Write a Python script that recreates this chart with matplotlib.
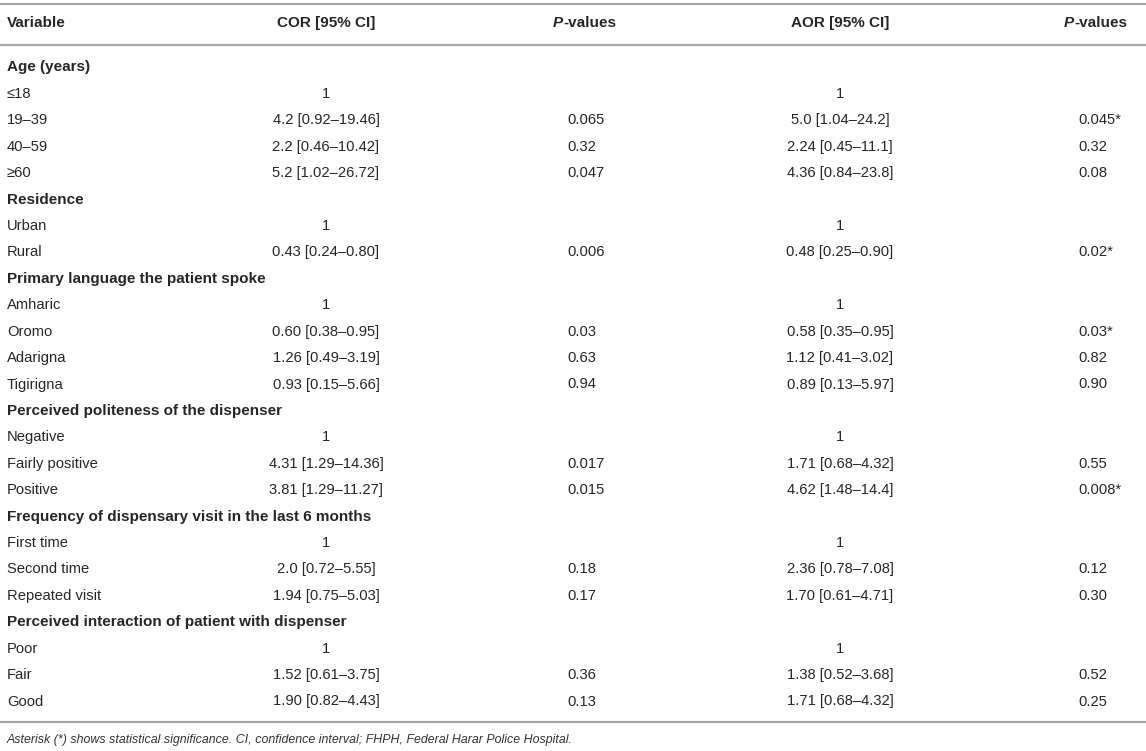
import numpy as np
import matplotlib.pyplot as plt

plt.rcParams['font.family'] = ['Liberation Sans', 'DejaVu Sans']

labels = ["Age (years)", "≤18", "19–39", "40–59", "≥60",
          "Residence", "Urban", "Rural",
          "Primary language the patient spoke", "Amharic", "Oromo", "Adarigna", "Tigirigna",
          "Perceived politeness of the dispenser", "Negative", "Fairly positive", "Positive",
          "Frequency of dispensary visit in the last 6 months", "First time", "Second time", "Repeated visit",
          "Perceived interaction of patient with dispenser", "Poor", "Fair", "Good"]
cor = ["", "1", "4.2 [0.92–19.46]", "2.2 [0.46–10.42]", "5.2 [1.02–26.72]",
       "", "1", "0.43 [0.24–0.80]",
       "", "1", "0.60 [0.38–0.95]", "1.26 [0.49–3.19]", "0.93 [0.15–5.66]",
       "", "1", "4.31 [1.29–14.36]", "3.81 [1.29–11.27]",
       "", "1", "2.0 [0.72–5.55]", "1.94 [0.75–5.03]",
       "", "1", "1.52 [0.61–3.75]", "1.90 [0.82–4.43]"]
p_cor = ["", "", "0.065", "0.32", "0.047",
         "", "", "0.006",
         "", "", "0.03", "0.63", "0.94",
         "", "", "0.017", "0.015",
         "", "", "0.18", "0.17",
         "", "", "0.36", "0.13"]
aor = ["", "1", "5.0 [1.04–24.2]", "2.24 [0.45–11.1]", "4.36 [0.84–23.8]",
       "", "1", "0.48 [0.25–0.90]",
       "", "1", "0.58 [0.35–0.95]", "1.12 [0.41–3.02]", "0.89 [0.13–5.97]",
       "", "1", "1.71 [0.68–4.32]", "4.62 [1.48–14.4]",
       "", "1", "2.36 [0.78–7.08]", "1.70 [0.61–4.71]",
       "", "1", "1.38 [0.52–3.68]", "1.71 [0.68–4.32]"]
p_aor = ["", "", "0.045*", "0.32", "0.08",
         "", "", "0.02*",
         "", "", "0.03*", "0.82", "0.90",
         "", "", "0.55", "0.008*",
         "", "", "0.12", "0.30",
         "", "", "0.52", "0.25"]
groups = {0, 5, 8, 13, 17, 21}
caption = ("Asterisk (*) shows statistical significance. CI, confidence interval; "
           "FHPH, Federal Harar Police Hospital.")

txt = "#262626"
rule = "#a6a6a6"
fs = 10.6       # body text
fs_b = 11.0     # bold headings

fig = plt.figure(figsize=(11.46, 7.51), dpi=100)
ax = fig.add_axes([0, 0, 1, 1])
ax.set_xlim(0, 1146)
ax.set_ylim(751, 0)
ax.axis("off")

# rules
for y in (4, 45, 722):
    ax.axhline(y, color=rule, lw=1.6)

# header
hy = 23
ax.text(7, hy, "Variable", ha="left", va="center", fontsize=fs_b, fontweight="bold", color=txt)
ax.text(326, hy, "COR [95% CI]", ha="center", va="center", fontsize=fs_b, fontweight="bold", color=txt)
ax.text(840, hy, "AOR [95% CI]", ha="center", va="center", fontsize=fs_b, fontweight="bold", color=txt)
for x0 in (553, 1064):
    t = ax.text(x0, hy, "P", ha="left", va="center", fontsize=fs_b, fontweight="bold",
                fontstyle="italic", color=txt)
    ax.annotate("-values", xy=(1, 0), xycoords=t, ha="left", va="bottom",
                fontsize=fs_b, fontweight="bold", color=txt)

# body
rows_y = np.linspace(67.5, 701.5, len(labels))
for i, y in enumerate(rows_y):
    if i in groups:
        ax.text(7, y, labels[i], ha="left", va="center", fontsize=fs_b, fontweight="bold", color=txt)
    else:
        ax.text(7, y, labels[i], ha="left", va="center", fontsize=fs, color=txt)
    ax.text(326, y, cor[i], ha="center", va="center", fontsize=fs, color=txt)
    ax.text(567, y, p_cor[i], ha="left", va="center", fontsize=fs, color=txt)
    ax.text(840, y, aor[i], ha="center", va="center", fontsize=fs, color=txt)
    ax.text(1078, y, p_aor[i], ha="left", va="center", fontsize=fs, color=txt)

ax.text(7, 740, caption, ha="left", va="center", fontsize=8.9, fontstyle="italic", color="#333333")

fig.savefig("out.png", dpi=100)
